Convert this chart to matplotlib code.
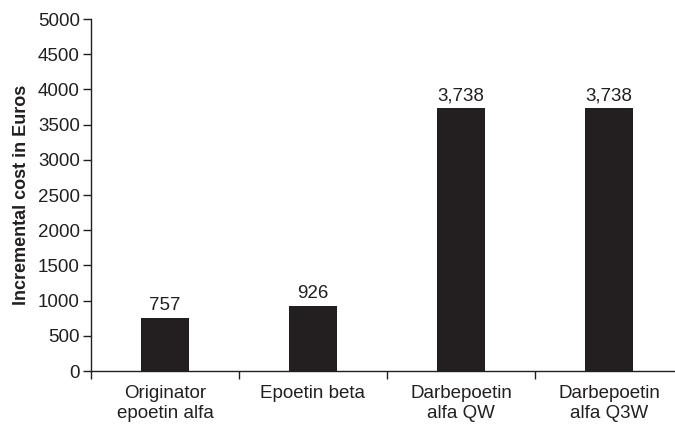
import matplotlib
matplotlib.use("Agg")
import matplotlib.pyplot as plt
from matplotlib.ticker import FixedLocator

categories = ["Originator\nepoetin alfa", "Epoetin beta",
              "Darbepoetin\nalfa QW", "Darbepoetin\nalfa Q3W"]
costs = [757, 926, 3738, 3738]
value_labels = ["757", "926", "3,738", "3,738"]
yticks = list(range(0, 5001, 500))

ink = "#231f20"
plt.rcParams["font.family"] = ["Liberation Sans", "DejaVu Sans"]
fs = 13.5

fig = plt.figure(figsize=(6.75, 4.28), dpi=100)
ax = fig.add_axes([91 / 675, 57 / 428, 1 - 91 / 675, 352 / 428])

x = list(range(len(categories)))
ax.bar(x, costs, width=0.32, color=ink, zorder=2)
for xi, v, lab in zip(x, costs, value_labels):
    ax.text(xi, v + 50, lab, ha="center", va="bottom", fontsize=fs, color=ink)

ax.set_xlim(-0.5, 3.446)
ax.set_ylim(0, 5000)
ax.set_yticks(yticks)
ax.set_yticklabels([str(t) for t in yticks], fontsize=fs, color=ink)

ax.set_xticks(x)
ax.set_xticklabels(categories, fontsize=fs, color=ink, linespacing=1.25)
ax.tick_params(axis="x", which="major", length=0, pad=10)
ax.xaxis.set_minor_locator(FixedLocator([-0.5, 0.5, 1.5, 2.5]))
ax.tick_params(axis="x", which="minor", length=6, width=1, color=ink, direction="out")
ax.tick_params(axis="y", length=6, width=1, color=ink, direction="out", pad=2)

ax.set_ylabel("Incremental cost in Euros", fontsize=13, fontweight="bold",
              color=ink, labelpad=6)

for s in ["top", "right"]:
    ax.spines[s].set_visible(False)
for s in ["left", "bottom"]:
    ax.spines[s].set_color(ink)
    ax.spines[s].set_linewidth(1)

fig.savefig("out.png", dpi=100)
